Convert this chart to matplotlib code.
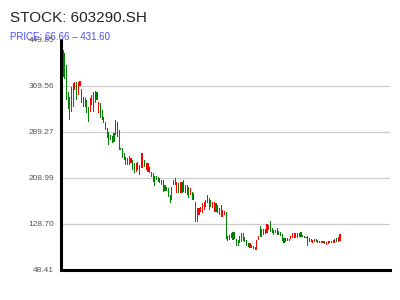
import matplotlib
matplotlib.use("Agg")
import matplotlib.pyplot as plt
import numpy as np

title = "STOCK: 603290.SH"
price_min = 66.66
price_max = 431.60

opens = [385, 427, 406, 359, 310, 324, 375, 363, 377, 354, 370, 364, 350, 333, 345, 333, 324, 354, 324, 340,
         359, 323, 340, 328, 316, 307, 296, 289, 284, 282, 287, 284, 281, 293, 261, 261, 253, 246, 244, 232,
         235, 240, 235, 220, 223, 214, 226, 226, 240, 223, 220, 228, 220, 218, 213, 213, 211, 209, 206, 206,
         197, 193, 191, 179, 170, 206, 209, 183, 200, 183, 202, 184, 197, 179, 193, 179, 184, 183, 167, 132,
         144, 150, 148, 153, 171, 179, 174, 171, 157, 150, 165, 162, 144, 141, 141, 144, 150, 99, 101, 104,
         115, 115, 103, 101, 96, 98, 113, 106, 101, 96, 87, 87, 90, 89, 83, 101, 125, 106, 110, 120,
         113, 118, 134, 122, 110, 113, 122, 116, 115, 111, 104, 97, 99, 103, 103, 104, 104, 104, 113, 106,
         115, 110, 108, 106, 90, 104, 103, 96, 97, 103, 101, 99, 99, 96, 99, 92, 94, 96, 96, 96,
         96, 104, 97, 99]
closes = [432, 382, 345, 330, 350, 368, 333, 377, 345, 377, 378, 340, 333, 349, 323, 307, 349, 336, 359, 361,
          345, 342, 314, 310, 305, 293, 279, 267, 275, 270, 272, 310, 307, 258, 258, 244, 240, 232, 232, 247,
          244, 223, 218, 235, 237, 232, 252, 252, 228, 235, 235, 218, 211, 202, 195, 206, 202, 200, 197, 185,
          186, 186, 176, 165, 193, 197, 197, 202, 183, 202, 183, 205, 183, 197, 174, 191, 171, 171, 132, 157,
          157, 159, 165, 167, 158, 165, 153, 158, 167, 167, 150, 148, 157, 162, 153, 151, 103, 108, 110, 113,
          101, 103, 90, 90, 108, 113, 99, 97, 90, 89, 96, 92, 85, 83, 101, 108, 106, 120, 120, 111,
          129, 127, 115, 113, 118, 118, 110, 110, 108, 99, 96, 104, 104, 99, 108, 113, 113, 113, 104, 113,
          106, 106, 104, 104, 108, 97, 97, 101, 103, 97, 96, 96, 96, 99, 94, 97, 99, 99, 99, 101,
          103, 97, 106, 111]

pad = (price_max - price_min) * 0.05
ylo, yhi = price_min - pad, price_max + pad
yticks = np.linspace(ylo, yhi, 6)

fig = plt.figure(figsize=(4, 3), dpi=100)
ax = fig.add_axes([0.1525, 0.1, 0.8225, 0.7667])

n = len(opens)
x = np.arange(n)
o = np.array(opens, dtype=float)
c = np.array(closes, dtype=float)
colors = np.where(c >= o, "#ff0000", "#008000")

for v in yticks[1:-1]:
    ax.axhline(v, color="#cccccc", linewidth=0.9, zorder=0)

ax.bar(x, np.abs(c - o), bottom=np.minimum(o, c), width=0.65, color=colors, linewidth=0, zorder=2)

ax.set_ylim(ylo, yhi)
ax.set_xlim(-1.2, 192.4)
ax.set_yticks(yticks)
ax.set_yticklabels([f"{v:.2f}" for v in yticks], fontsize=6, color="#555555",
                   family="Liberation Sans")
ax.tick_params(axis="y", length=0, pad=5)
ax.set_xticks([])
for s in ["top", "right"]:
    ax.spines[s].set_visible(False)
for s in ["left", "bottom"]:
    ax.spines[s].set_linewidth(2.2)
    ax.spines[s].set_color("black")
    ax.spines[s].set_zorder(3)

fig.text(10 / 400, 1 - 18 / 300, title, fontsize=11, family="Liberation Sans",
         color="#222222", va="center", ha="left")
fig.text(10 / 400, 1 - 37 / 300, f"PRICE: {price_min:.2f} – {price_max:.2f}", fontsize=7,
         family="Liberation Sans", color="#4d4dff", va="center", ha="left")

fig.savefig("out.png", dpi=100)
